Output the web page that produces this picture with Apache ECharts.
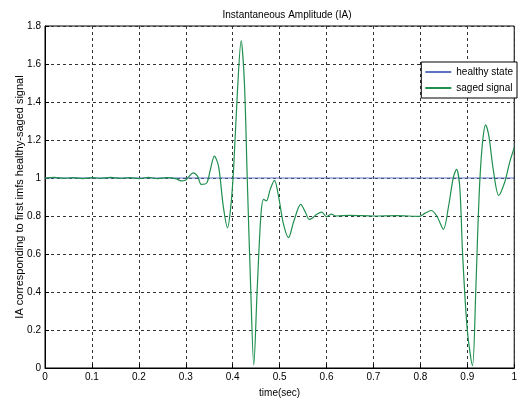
<!DOCTYPE html>
<html>
<head>
<meta charset="utf-8">
<script src="https://cdn.jsdelivr.net/npm/echarts@6/dist/echarts.min.js"></script>
<style>
  html, body { margin: 0; padding: 0; background: #fff; }
  #chart { width: 520px; height: 403px; }
</style>
</head>
<body>
<div id="chart"></div>
<script>
// time (sec) and IA values
const healthyTime = [0, 1];
const healthyValue = [1, 1];

const sagedTime = [
  0, 0.02, 0.04, 0.06, 0.08, 0.10, 0.12, 0.14, 0.16, 0.18, 0.20, 0.22, 0.24, 0.26, 0.28,
  0.29, 0.30, 0.316, 0.325, 0.333, 0.345, 0.352, 0.361, 0.37, 0.38, 0.389, 0.396, 0.402,
  0.41, 0.418, 0.425, 0.431, 0.438, 0.445, 0.452, 0.46, 0.466, 0.472, 0.48, 0.489, 0.498,
  0.508, 0.519, 0.53, 0.545, 0.555, 0.563, 0.57, 0.58, 0.59, 0.60, 0.61, 0.62, 0.65, 0.70,
  0.75, 0.798, 0.81, 0.823, 0.835, 0.849, 0.86, 0.87, 0.877, 0.884, 0.89, 0.90, 0.911,
  0.918, 0.922, 0.927, 0.933, 0.939, 0.946, 0.955, 0.967, 0.98, 0.99, 1.0
];
const sagedValue = [
  1.0, 1.003, 0.998, 1.002, 0.997, 1.002, 0.998, 1.003, 0.998, 1.002, 0.997, 1.003, 0.997, 1.002, 0.995,
  0.985, 0.99, 1.027, 1.01, 0.966, 0.975, 1.04, 1.115, 1.06, 0.85, 0.738, 0.85, 1.05,
  1.45, 1.723, 1.5, 1.0, 0.45, 0.016, 0.4, 0.8, 0.887, 0.88, 0.94, 0.987, 0.9,
  0.76, 0.686, 0.77, 0.861, 0.82, 0.782, 0.79, 0.81, 0.82, 0.796, 0.81, 0.80, 0.803, 0.80,
  0.802, 0.798, 0.815, 0.829, 0.80, 0.73, 0.85, 1.0, 1.045, 0.95, 0.6, 0.2, 0.012,
  0.4, 0.7, 1.0, 1.2, 1.28, 1.22, 1.05, 0.908, 0.98, 1.08, 1.16
];

const chart = echarts.init(document.getElementById('chart'));
const font = 'Liberation Sans, Arial, sans-serif';
const gridLine = { show: true, lineStyle: { color: '#333', width: 1, type: [3, 3] } };

chart.setOption({
  animation: false,
  backgroundColor: '#fff',
  title: {
    text: 'Instantaneous Amplitude (IA)',
    left: 282, top: 5, textAlign: 'center',
    textStyle: { fontFamily: font, fontSize: 10, fontWeight: 'normal', color: '#000' }
  },
  grid: {
    left: 45, right: 1, top: 26, bottom: 34,
    show: true, borderColor: '#000', borderWidth: 1
  },
  legend: {
    orient: 'vertical',
    right: 3, top: 62,
    backgroundColor: '#fff',
    borderColor: '#000', borderWidth: 1,
    padding: [5, 4, 5, 4],
    icon: 'rect',
    itemWidth: 26, itemHeight: 2, itemGap: 6,
    textStyle: { fontFamily: font, fontSize: 10, color: '#000' },
    data: ['healthy state', 'saged signal']
  },
  xAxis: {
    type: 'value', min: 0, max: 1, interval: 0.1,
    name: 'time(sec)', nameLocation: 'middle', nameGap: 20,
    nameTextStyle: { fontFamily: font, fontSize: 10, color: '#000' },
    axisLine: { show: true, lineStyle: { color: '#000' } },
    axisTick: { show: true, inside: true, length: 4, lineStyle: { color: '#000' } },
    axisLabel: { fontFamily: font, fontSize: 10, color: '#000', margin: 4 },
    splitLine: gridLine
  },
  yAxis: {
    type: 'value', min: 0, max: 1.8, interval: 0.2,
    name: 'IA corresponding to first imfs healthy-saged signal',
    nameLocation: 'middle', nameGap: 20, nameMoveOverlap: false,
    nameTextStyle: { fontFamily: font, fontSize: 11, color: '#000' },
    axisLine: { show: true, lineStyle: { color: '#000' } },
    axisTick: { show: true, inside: true, length: 4, lineStyle: { color: '#000' } },
    axisLabel: { fontFamily: font, fontSize: 10, color: '#000', margin: 4 },
    splitLine: gridLine
  },
  series: [
    {
      name: 'healthy state', type: 'line', symbol: 'none',
      lineStyle: { color: '#5b73c0', width: 1 },
      itemStyle: { color: '#5b73c0' },
      data: healthyTime.map((t, i) => [t, healthyValue[i]])
    },
    {
      name: 'saged signal', type: 'line', symbol: 'none', smooth: 0.3,
      lineStyle: { color: '#1e8f4e', width: 1.2 },
      itemStyle: { color: '#1e8f4e' },
      data: sagedTime.map((t, i) => [t, sagedValue[i]])
    }
  ]
});
</script>
</body>
</html>
